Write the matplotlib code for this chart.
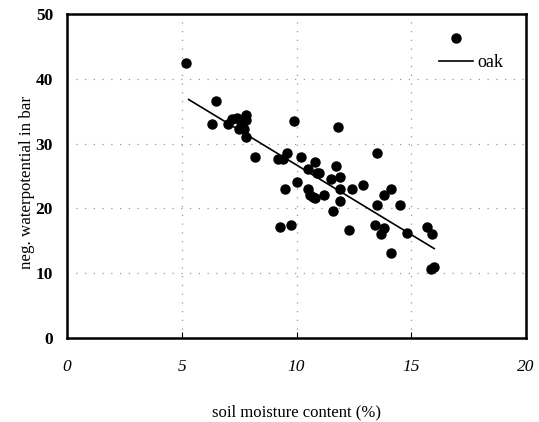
import matplotlib.pyplot as plt
from matplotlib.lines import Line2D

plt.rcParams['font.family'] = ['Liberation Serif', 'DejaVu Serif']

# measured points: soil moisture (%) vs negative water potential (bar)
moisture = [5.2, 6.5, 6.3, 7.0, 7.2, 7.4, 7.6, 7.8, 7.8, 7.5, 7.7, 7.8,
            8.2, 9.9, 9.2, 9.4, 9.6, 10.2, 10.8, 10.5, 10.9, 10.0, 9.5,
            10.5, 10.6, 10.7, 10.8, 11.2, 11.7, 11.0, 11.5, 11.9, 11.9,
            12.4, 12.9, 11.8, 11.6, 11.9, 9.3, 9.75, 12.3, 13.5, 13.5,
            13.8, 14.1, 14.5, 13.4, 13.8, 13.7, 14.8, 14.1, 15.7, 15.9,
            15.85, 16.0]
potential = [42.5, 36.6, 33.0, 33.0, 33.8, 34.0, 33.4, 34.4, 33.6, 32.2, 32.2, 31.0,
             28.0, 33.5, 27.6, 27.6, 28.6, 28.0, 27.1, 26.0, 25.5, 24.0, 23.0,
             23.0, 22.1, 21.8, 21.6, 22.1, 26.5, 25.5, 24.5, 24.9, 23.0,
             23.0, 23.6, 32.6, 19.6, 21.1, 17.1, 17.4, 16.6, 28.5, 20.5,
             22.1, 23.0, 20.5, 17.4, 17.0, 16.0, 16.2, 13.1, 17.1, 16.0,
             10.6, 11.0]

# trend line for oak
trend_x = [5.3, 16.0]
trend_y = [36.8, 13.8]

xticks = [0, 5, 10, 15, 20]
yticks = [0, 10, 20, 30, 40, 50]

fig = plt.figure(figsize=(5.39, 4.22), dpi=100)
ax = fig.add_axes([0.1243, 0.199, 0.8516, 0.768])

ax.plot(moisture, potential, 'o', color='black', markersize=6.5, zorder=3)
ax.plot(trend_x, trend_y, '-', color='black', linewidth=1.2, zorder=4)

ax.set_xlim(0, 20)
ax.set_ylim(0, 50)
ax.set_xticks(xticks)
ax.set_yticks(yticks)
ax.set_xticklabels([str(t) for t in xticks], fontstyle='italic', fontsize=12.5)
ax.set_yticklabels([str(t) for t in yticks], fontweight='bold', fontsize=12.5)
ax.tick_params(axis='x', direction='in', length=4, width=0.8, pad=15)
ax.tick_params(axis='y', direction='in', length=0, pad=10)

ax.grid(True, color='#999999', linestyle=(0, (1, 6)), linewidth=0.9)
ax.set_axisbelow(True)
for s in ax.spines.values():
    s.set_linewidth(1.8)

ax.set_xlabel('soil moisture content (%)', fontsize=12, labelpad=21)
ax.set_ylabel('neg. waterpotential in bar', fontsize=12.2)
ax.yaxis.set_label_coords(-0.07, 0.48)

handles = [Line2D([], [], marker='o', color='black', linestyle='none', markersize=6.5),
           Line2D([], [], color='black', linewidth=1.2)]
ax.legend(handles, ['', 'oak'], loc='upper left', bbox_to_anchor=(0.79, 0.973),
          frameon=False, fontsize=13, handlelength=1.9, handletextpad=0.25,
          labelspacing=0.3, borderpad=0)

fig.savefig('out.png', dpi=100)
